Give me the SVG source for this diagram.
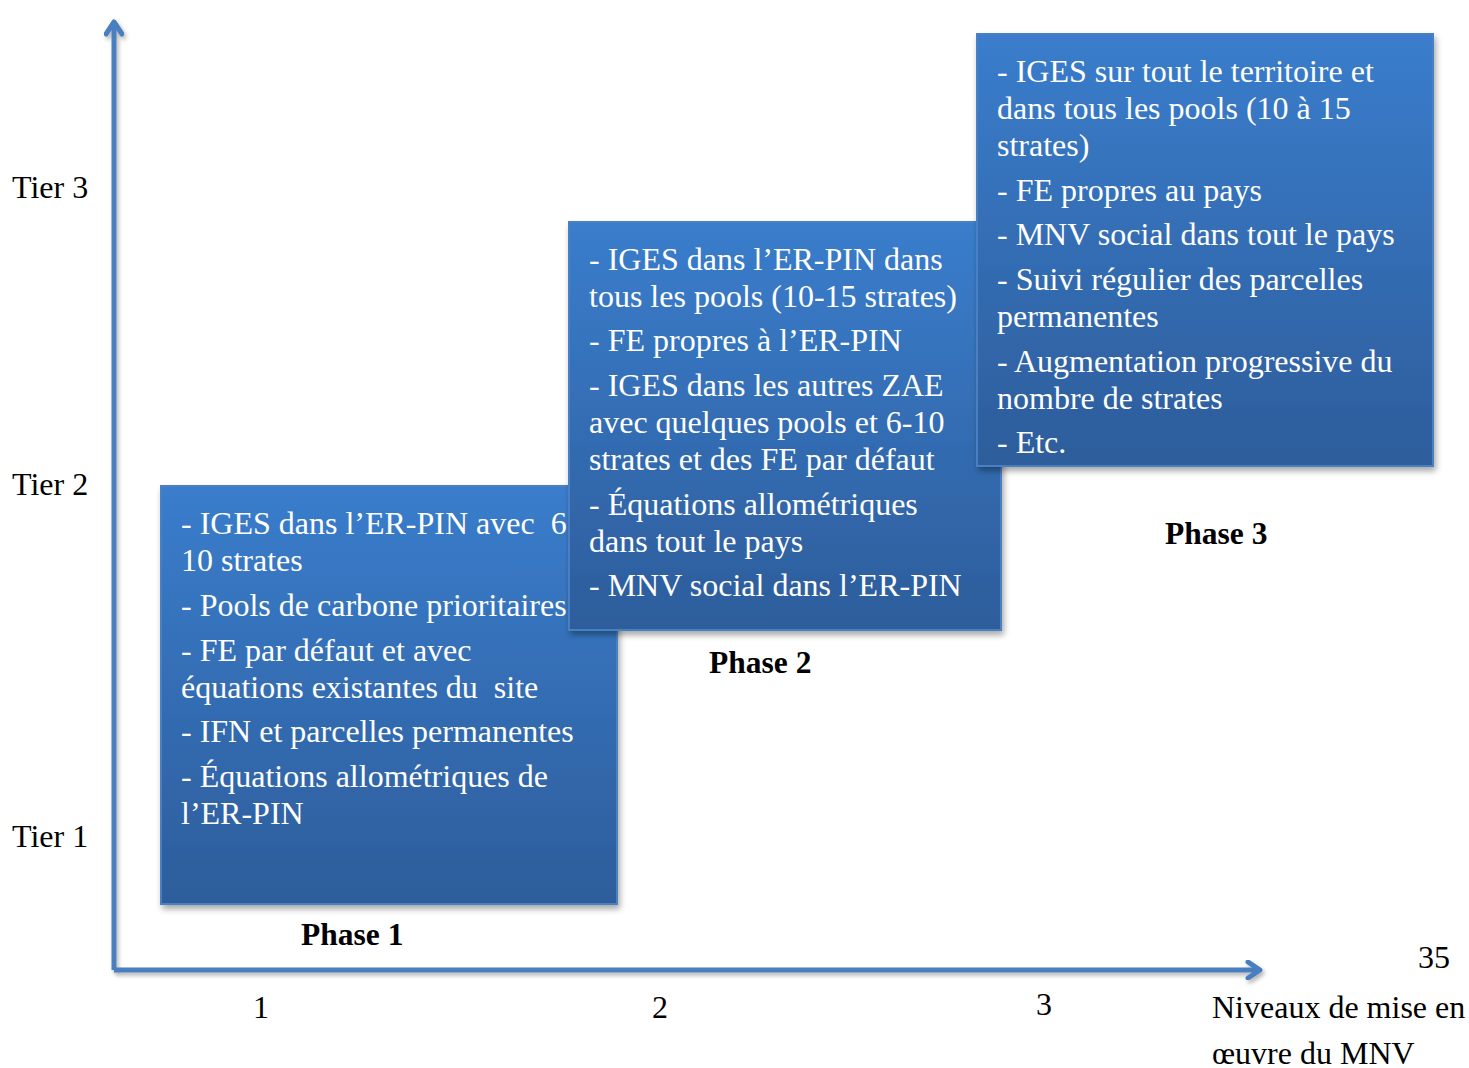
<svg xmlns="http://www.w3.org/2000/svg" width="1469" height="1068" viewBox="0 0 1469 1068">
<defs>
<linearGradient id="g" x1="0" y1="0" x2="0" y2="1">
<stop offset="0" stop-color="#3a7dcc"/>
<stop offset="1" stop-color="#2d5d9b"/>
</linearGradient>
<filter id="sh" x="-10%" y="-10%" width="125%" height="125%">
<feGaussianBlur in="SourceAlpha" stdDeviation="3"/>
<feOffset dx="2" dy="4"/>
<feComponentTransfer><feFuncA type="linear" slope="0.35"/></feComponentTransfer>
<feMerge><feMergeNode/><feMergeNode in="SourceGraphic"/></feMerge>
</filter>
<filter id="sh2" filterUnits="userSpaceOnUse" x="0" y="0" width="1469" height="1068">
<feGaussianBlur in="SourceAlpha" stdDeviation="2"/>
<feOffset dx="2" dy="3"/>
<feComponentTransfer><feFuncA type="linear" slope="0.3"/></feComponentTransfer>
<feMerge><feMergeNode/><feMergeNode in="SourceGraphic"/></feMerge>
</filter>
<marker id="ah" viewBox="0 0 20 20" refX="15" refY="10" markerWidth="20" markerHeight="20" markerUnits="userSpaceOnUse" orient="auto">
<path d="M3,2 L15,10 L3,18" fill="none" stroke="#4a7ebf" stroke-width="5" stroke-linecap="round" stroke-linejoin="round"/>
</marker>
</defs>
<style>
text{font-family:"Liberation Serif","Times New Roman",serif;font-size:32px;fill:#000}
.bx text{fill:#fff}
.bx rect{fill:url(#g);stroke:#4a80c4;stroke-width:2;filter:url(#sh)}
.b{font-weight:bold;font-size:31.5px}
.ax{stroke:#4a7ebf;stroke-width:5;fill:none;filter:url(#sh2)}
</style>
<g id="connectors">
<path class="ax" d="M114,970 L114,22" marker-end="url(#ah)"/>
<path class="ax" d="M114,970 L1260,970" marker-end="url(#ah)"/>
</g>
<g id="labels">
<text x="12" y="198">Tier 3</text>
<text x="12" y="495">Tier 2</text>
<text x="12" y="847">Tier 1</text>
<text x="253" y="1018">1</text>
<text x="652" y="1018">2</text>
<text x="1036" y="1015">3</text>
<text x="1418" y="968">35</text>
<text x="1212" y="1018">Niveaux de mise en</text>
<text x="1212" y="1064">œuvre du MNV</text>
</g>
<g id="phase1" class="bx">
<rect x="161" y="486" width="456" height="418"/>
<text x="181" y="534">- IGES dans l’ER-PIN avec &#160;6</text>
<text x="181" y="571">10 strates</text>
<text x="181" y="616">- Pools de carbone prioritaires</text>
<text x="181" y="661">- FE par défaut et avec</text>
<text x="181" y="698">équations existantes du &#160;site</text>
<text x="181" y="742">- IFN et parcelles permanentes</text>
<text x="181" y="787">- Équations allométriques de</text>
<text x="181" y="824">l’ER-PIN</text>
</g>
<text id="phase1-label" class="b" x="301" y="945">Phase 1</text>
<g id="phase2" class="bx">
<rect x="569" y="222" width="432" height="408"/>
<text x="589" y="270">- IGES dans l’ER-PIN dans</text>
<text x="589" y="307">tous les pools (10-15 strates)</text>
<text x="589" y="351">- FE propres à l’ER-PIN</text>
<text x="589" y="396">- IGES dans les autres ZAE</text>
<text x="589" y="433">avec quelques pools et 6-10</text>
<text x="589" y="470">strates et des FE par défaut</text>
<text x="589" y="515">- Équations allométriques</text>
<text x="589" y="552">dans tout le pays</text>
<text x="589" y="596">- MNV social dans l’ER-PIN</text>
</g>
<text id="phase2-label" class="b" x="709" y="673">Phase 2</text>
<g id="phase3" class="bx">
<rect x="977" y="34" width="456" height="432"/>
<text x="997" y="82">- IGES sur tout le territoire et</text>
<text x="997" y="119">dans tous les pools (10 à 15</text>
<text x="997" y="156">strates)</text>
<text x="997" y="201">- FE propres au pays</text>
<text x="997" y="245">- MNV social dans tout le pays</text>
<text x="997" y="290">- Suivi régulier des parcelles</text>
<text x="997" y="327">permanentes</text>
<text x="997" y="372">- Augmentation progressive du</text>
<text x="997" y="409">nombre de strates</text>
<text x="997" y="453">- Etc.</text>
</g>
<text id="phase3-label" class="b" x="1165" y="544">Phase 3</text>
</svg>
